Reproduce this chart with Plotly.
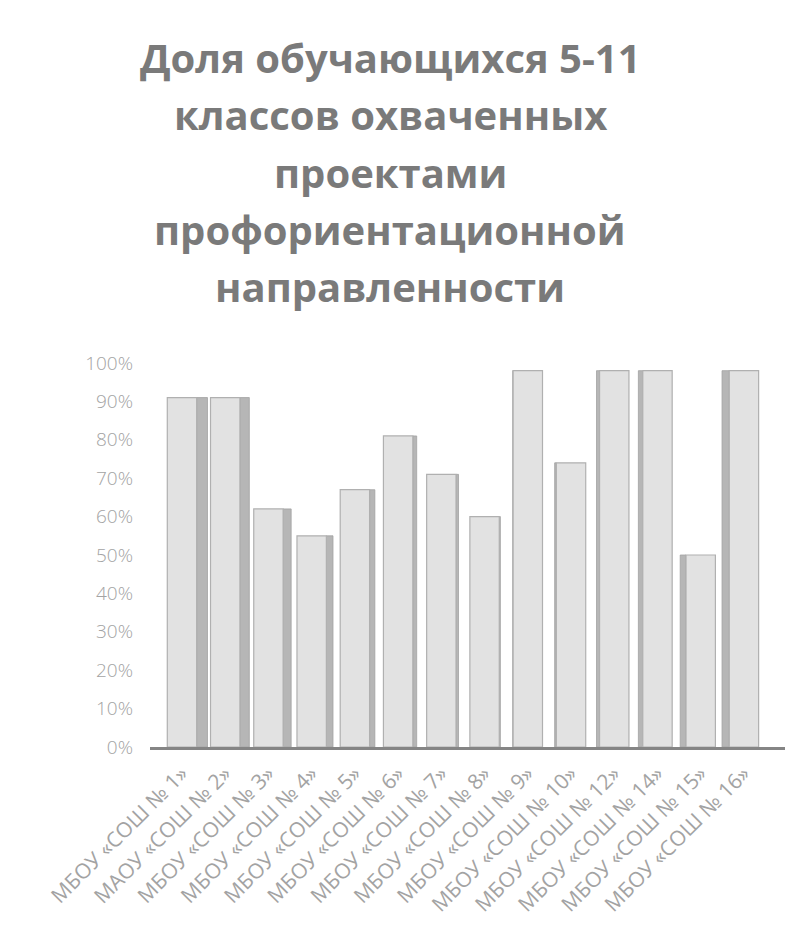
import plotly.graph_objects as go

categories = ["МБОУ «СОШ № 1»", "МАОУ «СОШ № 2»", "МБОУ «СОШ № 3»", "МБОУ «СОШ № 4»",
              "МБОУ «СОШ № 5»", "МБОУ «СОШ № 6»", "МБОУ «СОШ № 7»", "МБОУ «СОШ № 8»",
              "МБОУ «СОШ № 9»", "МБОУ «СОШ № 10»", "МБОУ «СОШ № 12»", "МБОУ «СОШ № 14»",
              "МБОУ «СОШ № 15»", "МБОУ «СОШ № 16»"]
values = [0.91, 0.91, 0.62, 0.55, 0.67, 0.81, 0.71, 0.60, 0.98, 0.74, 0.98, 0.98, 0.50, 0.98]
title_lines = ["Доля обучающихся 5-11", "классов охваченных", "проектами",
               "профориентационной", "направленности"]
y_ticks = [0, 0.1, 0.2, 0.3, 0.4, 0.5, 0.6, 0.7, 0.8, 0.9, 1.0]

# pseudo-3D side faces (perspective: side on the right for left bars, left for right bars)
front_w = 0.68
center = 7.8
side_w, side_off = [], []
for i in range(len(categories)):
    w = min(0.25, 0.032 * abs(i - center))
    side_w.append(w)
    side_off.append(front_w / 2 if i < center else -front_w / 2 - w)

fig = go.Figure()
fig.add_trace(go.Bar(
    x=categories, y=values, width=side_w, offset=side_off,
    marker=dict(color="#b6b6b6", line=dict(color="#a2a2a2", width=0.8)),
    hoverinfo="skip", showlegend=False))
fig.add_trace(go.Bar(
    x=categories, y=values, width=front_w, offset=-front_w / 2,
    marker=dict(color="#e2e2e2", line=dict(color="#b0b0b0", width=1.2)),
    showlegend=False))

L, R, T, B = 142, 777, 355, 739
annotations = []
for k, line in enumerate(title_lines):
    annotations.append(dict(
        text=line, xref="paper", yref="paper", x=(382 - L) / (R - L),
        y=1 + (T - (50 + 57 * k)) / (B - T), xanchor="center", yanchor="middle",
        showarrow=False,
        font=dict(family="Open Sans", size=40, color="#7a7a7a", weight="bold")))

fig.update_layout(
    width=803, height=943,
    margin=dict(l=L, r=803 - R, t=T, b=943 - B),
    paper_bgcolor="white", plot_bgcolor="white",
    barmode="overlay",
    annotations=annotations,
    xaxis=dict(
        range=[-0.74, 13.95], showgrid=False, showline=True, linecolor="#858585",
        linewidth=3, ticks="", tickangle=-45, ticklabelstandoff=3,
        tickfont=dict(family="Open Sans", size=21, color="#a3a3a3")),
    yaxis=dict(
        range=[0, 1], tickvals=y_ticks, tickformat=".0%", showgrid=False,
        showline=False, zeroline=False, ticks="", ticklabelstandoff=16,
        tickfont=dict(family="Open Sans", size=19, color="#a3a3a3", weight=300)),
)

fig.write_html("out.html")
